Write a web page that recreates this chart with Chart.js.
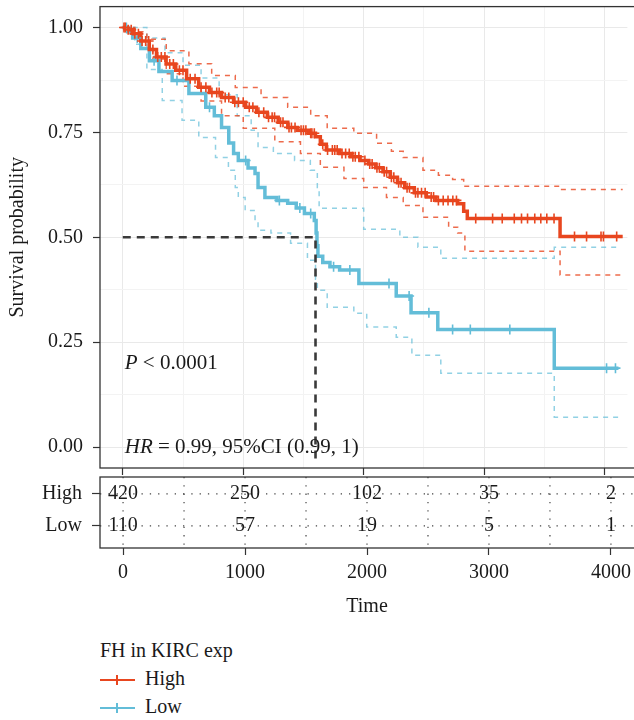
<!DOCTYPE html>
<html>
<head>
<meta charset="utf-8">
<script src="https://cdn.jsdelivr.net/npm/chart.js@4.4.0/dist/chart.umd.min.js"></script>
<style>
  body { margin: 0; background: #fff; }
  #wrap { position: relative; width: 634px; height: 720px; overflow: hidden;
          font-family: "Liberation Serif", "DejaVu Serif", serif; color: #1a1a1a; }
  #km { position: absolute; left: 0; top: 0; }
  #risk { position: absolute; left: 0; top: 470px; }
  #legend { position: absolute; left: 100px; top: 638px; font-size: 20px; line-height: 24px; }
  #legend .row { position: absolute; left: 0; white-space: nowrap; }
  #legend .key { display: inline-block; position: relative; width: 35px; height: 2px;
                 vertical-align: middle; margin-right: 10px; }
  #legend .key i { position: absolute; left: 16px; top: -4px; width: 2px; height: 10px; }
</style>
</head>
<body>
<div id="wrap">
  <canvas id="km" width="634" height="476"></canvas>
  <canvas id="risk" width="634" height="160"></canvas>
  <div id="legend"></div>
</div>
<script>
const groups = ['High', 'Low'];
const colors = ['#E8461F', '#63BDD8'];
const legendTitle = 'FH in KIRC exp';

// Kaplan-Meier estimates (time in days)
const highTime = [0, 40, 90, 150, 220, 280, 360, 440, 530, 630, 720, 820, 920, 1020, 1110, 1200, 1290, 1370, 1450, 1540,
                  1600, 1640, 1690, 1800, 1900, 1970, 2040, 2100, 2160, 2220, 2280, 2340, 2420, 2520, 2600, 2780, 2830, 2860, 3630, 4150];
const highSurv = [1.0, 0.995, 0.985, 0.968, 0.948, 0.93, 0.913, 0.898, 0.878, 0.858, 0.845, 0.833, 0.822, 0.81, 0.798, 0.786, 0.774, 0.762, 0.755, 0.748,
                  0.74, 0.722, 0.708, 0.70, 0.692, 0.683, 0.675, 0.666, 0.656, 0.643, 0.63, 0.618, 0.606, 0.596, 0.588, 0.58, 0.562, 0.545, 0.502, 0.502];
const highUpperTime = [0, 100, 200, 361, 549, 738, 934, 1148, 1369, 1560, 1697, 1918, 2107, 2230, 2328, 2492, 2620, 2738, 2830, 3630, 4150];
const highUpper = [1.0, 0.99, 0.972, 0.945, 0.914, 0.886, 0.857, 0.833, 0.81, 0.79, 0.76, 0.748, 0.724, 0.705, 0.69, 0.66, 0.648, 0.638, 0.622, 0.614, 0.614];
const highLowerTime = [0, 60, 150, 250, 361, 500, 650, 820, 1000, 1262, 1475, 1640, 1836, 2000, 2189, 2328, 2492, 2705, 2780, 2840, 3630, 4150];
const highLower = [1.0, 0.985, 0.95, 0.925, 0.89, 0.86, 0.825, 0.79, 0.76, 0.728, 0.70, 0.667, 0.64, 0.619, 0.595, 0.576, 0.548, 0.524, 0.51, 0.467, 0.41, 0.41];
const highCensor = [10, 20, 45, 70, 100, 130, 160, 190, 215, 250, 290, 320, 350, 390, 420, 470, 500, 560, 600, 650,
                    690, 740, 780, 800, 850, 880, 930, 960, 1000, 1050, 1080, 1130, 1170, 1210, 1240, 1260, 1310, 1330, 1380, 1400,
                    1430, 1480, 1500, 1520, 1560, 1570, 1590, 1660, 1700, 1740, 1760, 1780, 1820, 1850, 1880, 1910, 1930, 1960, 2010, 2050,
                    2070, 2110, 2130, 2170, 2190, 2230, 2250, 2290, 2310, 2360, 2380, 2430, 2450, 2480, 2510, 2560, 2580,
                    2620, 2660, 2700, 2740, 2770, 2930, 3070, 3150, 3250, 3310, 3360, 3420, 3470, 3520, 3580, 3750, 3850, 3970, 3990, 4100];

const lowTime = [0, 40, 82, 150, 221, 300, 410, 549, 689, 760, 820, 880, 920, 959, 1040, 1098, 1123, 1180, 1280, 1369,
                 1440, 1508, 1590, 1605, 1612, 1620, 1660, 1720, 1800, 1960, 2270, 2393, 2615, 3582, 4115];
const lowSurv = [1.0, 0.99, 0.975, 0.95, 0.921, 0.895, 0.874, 0.843, 0.81, 0.79, 0.762, 0.725, 0.70, 0.683, 0.665, 0.652, 0.619, 0.595, 0.588, 0.581,
                 0.57, 0.557, 0.54, 0.51, 0.48, 0.455, 0.44, 0.43, 0.422, 0.39, 0.36, 0.32, 0.28, 0.188, 0.188];
const lowUpperTime = [0, 200, 350, 500, 650, 800, 950, 1066, 1123, 1250, 1426, 1557, 1615, 1630, 2000, 2300, 2450, 2640, 3582, 4115];
const lowUpper = [1.0, 0.975, 0.94, 0.91, 0.88, 0.84, 0.79, 0.755, 0.714, 0.70, 0.683, 0.66, 0.619, 0.569, 0.519, 0.50, 0.476, 0.45, 0.476, 0.476];
const lowLowerTime = [0, 100, 200, 328, 492, 631, 770, 877, 934, 959, 1016, 1098, 1123, 1230, 1393, 1533, 1600, 1615, 1697, 1918,
                      2025, 2270, 2400, 2640, 3582, 4115];
const lowLower = [1.0, 0.96, 0.90, 0.826, 0.779, 0.738, 0.69, 0.66, 0.619, 0.595, 0.564, 0.54, 0.517, 0.51, 0.486, 0.445, 0.40, 0.374, 0.333, 0.319,
                  0.286, 0.262, 0.219, 0.176, 0.071, 0.071];
const lowCensor = [30, 120, 260, 450, 720, 1020, 1300, 1470, 1560, 1750, 1885, 2210, 2377, 2541, 2738, 2885, 3213, 4016, 4090];

const medianTime = 1600;
const medianLevel = 0.5;

// numbers at risk
const riskTimes = [0, 1000, 2000, 3000, 4000];
const riskHigh = [420, 250, 102, 35, 2];
const riskLow = [110, 57, 19, 5, 1];

const xTicks = [0, 1000, 2000, 3000, 4000];
const xGrid = [0, 500, 1000, 1500, 2000, 2500, 3000, 3500, 4000];
const yTicks = [0, 0.25, 0.5, 0.75, 1];
const yGrid = [0, 0.125, 0.25, 0.375, 0.5, 0.625, 0.75, 0.875, 1];

const pValueText = ' < 0.0001';
const hrText = ' = 0.99, 95%CI (0.99, 1)';

const FONT = '"Liberation Serif", "DejaVu Serif", serif';
Chart.defaults.font.family = FONT;
Chart.defaults.font.size = 20;
Chart.defaults.color = '#1a1a1a';

const pts = (t, v) => t.map((x, i) => ({ x: x, y: v[i] }));
function survAt(t, v, time) {
  let s = v[0];
  for (let i = 0; i < t.length; i++) {
    if (t[i] <= time) s = v[i]; else break;
  }
  return s;
}
function fade(hex, a) {
  const n = parseInt(hex.slice(1), 16);
  return `rgba(${n >> 16},${(n >> 8) & 255},${n & 255},${a})`;
}
// fixed axis size, no extra room for half labels
const fixSize = (w, h) => s => {
  if (w != null) s.width = w;
  if (h != null) s.height = h;
  s.paddingTop = 0; s.paddingBottom = 0; s.paddingLeft = 0; s.paddingRight = 0;
};
const setTicks = vals => s => { s.ticks = vals.map(v => ({ value: v })); };

const curves = [
  { t: highTime, s: highSurv, ut: highUpperTime, u: highUpper, lt: highLowerTime, l: highLower, c: highCensor },
  { t: lowTime, s: lowSurv, ut: lowUpperTime, u: lowUpper, lt: lowLowerTime, l: lowLower, c: lowCensor }
];

const datasets = [];
datasets.push({
  data: [{ x: 0, y: medianLevel }, { x: medianTime, y: medianLevel }, { x: medianTime, y: -0.03 }],
  borderColor: '#3a3a3a', borderWidth: 2.6, borderDash: [8, 6], pointRadius: 0, stepped: false
});
curves.forEach((k, g) => {
  datasets.push({
    data: k.c.map(x => ({ x: x, y: survAt(k.t, k.s, x) })),
    showLine: false, pointStyle: 'cross', pointRadius: 5,
    pointBorderColor: colors[g], pointBorderWidth: 1.6
  });
});
curves.forEach((k, g) => {
  datasets.push({ data: pts(k.t, k.s), borderColor: colors[g], borderWidth: 3.5, stepped: true, pointRadius: 0 });
});
curves.forEach((k, g) => {
  const ci = fade(colors[g], g === 0 ? 0.8 : 0.7);
  datasets.push({ data: pts(k.ut, k.u), borderColor: ci, borderWidth: 1.5, borderDash: [5, 5], stepped: true, pointRadius: 0 });
  datasets.push({ data: pts(k.lt, k.l), borderColor: ci, borderWidth: 1.5, borderDash: [5, 5], stepped: true, pointRadius: 0 });
});

const isMajorX = v => xTicks.includes(v);
const isMajorY = v => yTicks.includes(v);

// panel outline and the test statistics
const panelFrame = {
  id: 'panelFrame',
  afterDraw(chart) {
    const { ctx, chartArea: a, scales } = chart;
    ctx.save();
    ctx.strokeStyle = '#333';
    ctx.lineWidth = 1.3;
    ctx.strokeRect(a.left, a.top, a.right - a.left + 10, a.bottom - a.top);
    ctx.fillStyle = '#1a1a1a';
    ctx.textBaseline = 'middle';
    const x0 = scales.x.getPixelForValue(0) + 2;
    const lines = [['P', pValueText, 0.2], ['HR', hrText, 0.0]];
    lines.forEach(([it, rest, yv]) => {
      const y = scales.y.getPixelForValue(yv);
      ctx.font = 'italic 21px ' + FONT;
      ctx.fillText(it, x0, y);
      const w = ctx.measureText(it).width;
      ctx.font = '21px ' + FONT;
      ctx.fillText(rest, x0 + w, y);
    });
    ctx.restore();
  }
};

new Chart(document.getElementById('km'), {
  type: 'line',
  data: { datasets },
  options: {
    responsive: false,
    animation: false,
    events: [],
    layout: { padding: { top: 5, left: 0, right: 0, bottom: 0 } },
    plugins: { legend: { display: false }, tooltip: { enabled: false } },
    scales: {
      x: {
        type: 'linear', min: -189, max: 4189,
        afterBuildTicks: setTicks(xGrid),
        ticks: { display: false, autoSkip: false },
        grid: {
          color: c => isMajorX(c.tick.value) ? '#e9e9e9' : '#f3f3f3',
          tickLength: 7, tickWidth: 1.2,
          tickColor: c => isMajorX(c.tick.value) ? '#333' : 'rgba(0,0,0,0)'
        },
        border: { display: false },
        afterFit: fixSize(null, 8)
      },
      y: {
        type: 'linear', min: -0.05, max: 1.05,
        afterBuildTicks: setTicks(yGrid),
        ticks: { padding: 10, autoSkip: false, callback: v => isMajorY(v) ? v.toFixed(2) : '' },
        grid: {
          color: c => isMajorY(c.tick.value) ? '#e9e9e9' : '#f3f3f3',
          tickLength: 7, tickWidth: 1.2,
          tickColor: c => isMajorY(c.tick.value) ? '#333' : 'rgba(0,0,0,0)'
        },
        border: { display: false },
        title: { display: true, text: 'Survival probability', padding: { top: 6 } },
        afterFit: fixSize(100, null)
      }
    }
  },
  plugins: [panelFrame]
});

// risk table: dotted guides, frame and counts
const riskFrame = {
  id: 'riskFrame',
  beforeDatasetsDraw(chart) {
    const { ctx, chartArea: a, scales } = chart;
    ctx.save();
    ctx.strokeStyle = '#444';
    ctx.lineWidth = 1.2;
    ctx.setLineDash([1.3, 7]);
    scales.x.ticks.forEach(t => {
      const x = scales.x.getPixelForValue(t.value);
      ctx.beginPath(); ctx.moveTo(x, a.top); ctx.lineTo(x, a.bottom); ctx.stroke();
    });
    groups.forEach((g, i) => {
      const y = scales.y.getPixelForValue(i);
      ctx.beginPath(); ctx.moveTo(a.left, y); ctx.lineTo(a.right + 10, y); ctx.stroke();
    });
    ctx.restore();
  },
  afterDraw(chart) {
    const { ctx, chartArea: a } = chart;
    ctx.save();
    ctx.strokeStyle = '#333';
    ctx.lineWidth = 1.3;
    ctx.strokeRect(a.left, a.top, a.right - a.left + 10, a.bottom - a.top);
    ctx.font = '20px ' + FONT;
    ctx.fillStyle = '#1a1a1a';
    ctx.textAlign = 'center';
    ctx.textBaseline = 'middle';
    chart.data.datasets.forEach((ds, di) => {
      chart.getDatasetMeta(di).data.forEach((p, i) => {
        ctx.fillText(String(ds.data[i].n), p.x, p.y);
      });
    });
    ctx.restore();
  }
};

const riskCounts = [riskHigh, riskLow];
new Chart(document.getElementById('risk'), {
  type: 'scatter',
  data: {
    datasets: groups.map((g, gi) => ({
      label: g,
      data: riskTimes.map((t, i) => ({ x: t, y: gi, n: riskCounts[gi][i] })),
      pointRadius: 0
    }))
  },
  options: {
    responsive: false,
    animation: false,
    events: [],
    layout: { padding: { top: 7, left: 0, right: 0, bottom: 0 } },
    plugins: { legend: { display: false }, tooltip: { enabled: false } },
    scales: {
      x: {
        type: 'linear', min: -189, max: 4189,
        afterBuildTicks: setTicks(xGrid),
        ticks: { autoSkip: false, maxRotation: 0, padding: 6, callback: v => isMajorX(v) ? String(v) : '' },
        grid: {
          drawOnChartArea: false, tickLength: 7, tickWidth: 1.2,
          tickColor: c => isMajorX(c.tick.value) ? '#333' : 'rgba(0,0,0,0)'
        },
        border: { display: false },
        title: { display: true, text: 'Time', padding: { top: 4, bottom: 11 } },
        afterFit: fixSize(null, 82)
      },
      y: {
        type: 'linear', reverse: true, min: -0.53, max: 1.69,
        afterBuildTicks: setTicks(groups.map((g, i) => i)),
        ticks: { padding: 10, autoSkip: false, callback: v => groups[v] },
        grid: { drawOnChartArea: false, tickLength: 8, tickWidth: 1.2, tickColor: '#333' },
        border: { display: false },
        afterFit: fixSize(100, null)
      }
    }
  },
  plugins: [riskFrame]
});

// legend below the table
const legend = document.getElementById('legend');
const title = document.createElement('div');
title.className = 'row';
title.style.top = '0px';
title.textContent = legendTitle;
legend.appendChild(title);
groups.forEach((g, i) => {
  const row = document.createElement('div');
  row.className = 'row';
  row.style.top = (28 + i * 28) + 'px';
  const key = document.createElement('span');
  key.className = 'key';
  key.style.background = colors[i];
  const tick = document.createElement('i');
  tick.style.background = colors[i];
  key.appendChild(tick);
  row.appendChild(key);
  row.appendChild(document.createTextNode(g));
  legend.appendChild(row);
});
</script>
</body>
</html>
